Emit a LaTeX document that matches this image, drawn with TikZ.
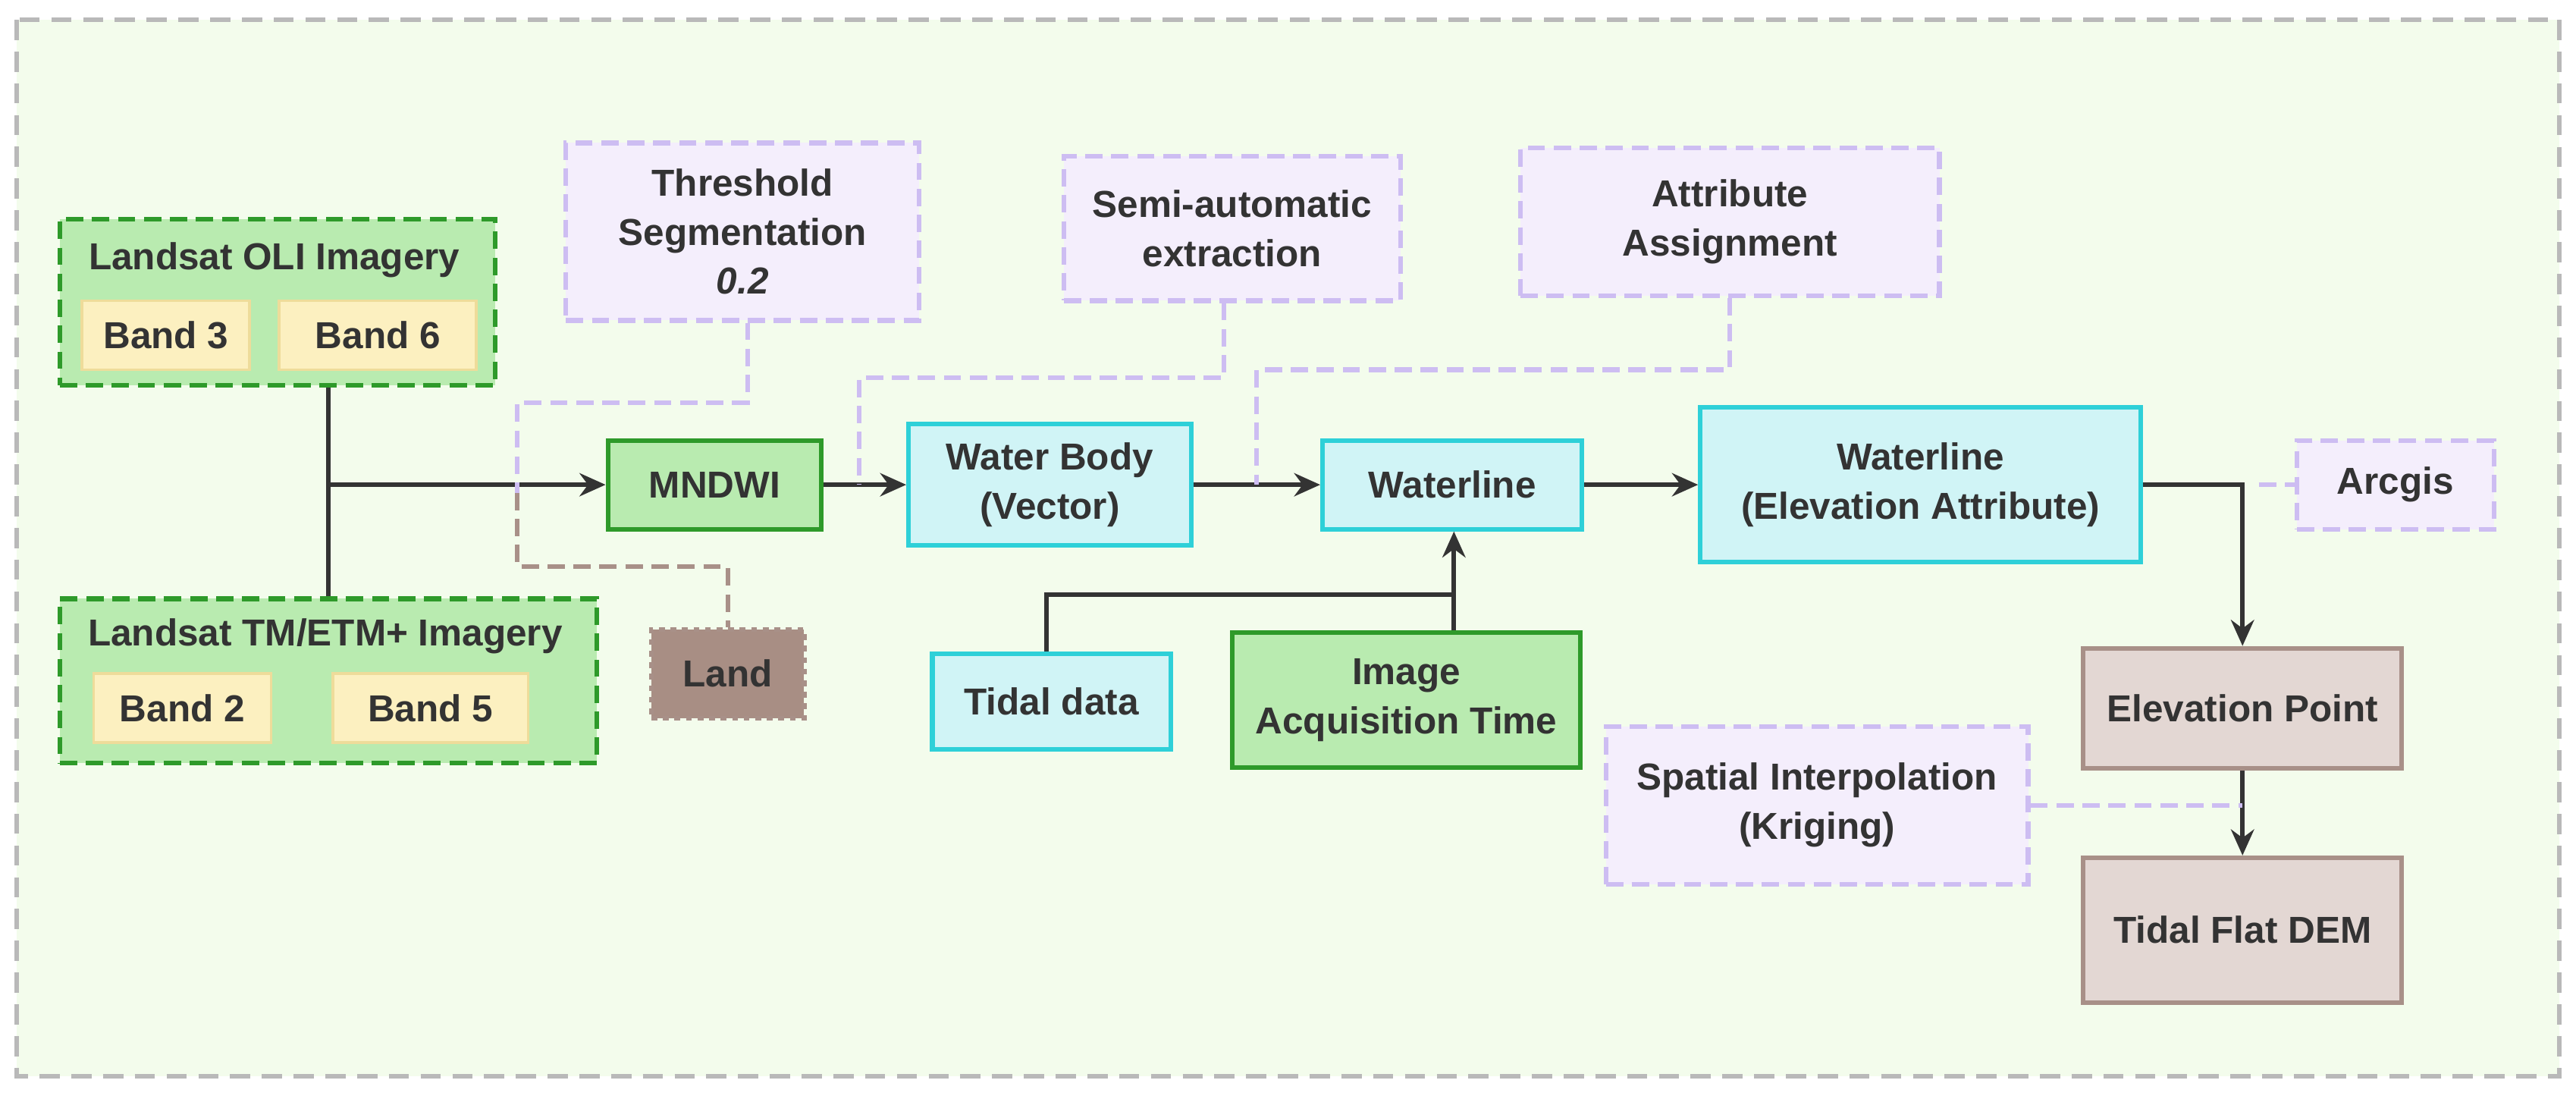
\documentclass[tikz,border=0pt]{standalone}
\usepackage{fontspec}
\setmainfont{Liberation Sans}
\usetikzlibrary{arrows.meta}
\definecolor{bgg}{HTML}{F3FCEC}
\definecolor{grn}{HTML}{B9EBB0}
\definecolor{dgrn}{HTML}{2E9A2A}
\definecolor{yel}{HTML}{FCF0C0}
\definecolor{yelb}{HTML}{EEDC9A}
\definecolor{lav}{HTML}{F4EEFC}
\definecolor{lavb}{HTML}{CDBDF2}
\definecolor{cyf}{HTML}{D0F4F6}
\definecolor{cyb}{HTML}{2ED0D8}
\definecolor{brf}{HTML}{E3D7D3}
\definecolor{brb}{HTML}{A89088}
\definecolor{land}{HTML}{A88E84}
\definecolor{ink}{HTML}{333333}
\begin{document}
\begin{tikzpicture}[x=0.02cm,y=-0.02cm,font=\fontsize{13}{17}\selectfont\bfseries,text=ink,
 box/.style={draw,line width=1.6pt,align=center,inner sep=0pt},
 grnbox/.style={box,fill=grn,draw=dgrn},
 dgrnbox/.style={box,fill=grn,draw=dgrn,dash pattern=on 6pt off 3pt},
 band/.style={box,fill=yel,draw=yelb,line width=1pt},
 cy/.style={box,fill=cyf,draw=cyb},
 br/.style={box,fill=brf,draw=brb},
 lv/.style={box,fill=lav,draw=lavb,dash pattern=on 6pt off 3pt},
 conn/.style={draw=ink,line width=1.6pt},
 arr/.style={conn,-{Stealth[length=9pt,width=8pt]}},
 lvl/.style={draw=lavb,line width=1.6pt,dash pattern=on 6pt off 3pt},
 brl/.style={draw=brb,line width=1.6pt,dash pattern=on 6pt off 3pt}]
\useasboundingbox (0,0) rectangle (1568,668.5);
\draw[fill=bgg,draw=gray!55,line width=1.6pt,dash pattern=on 7pt off 4pt] (10,12) rectangle (1558,655);
% Landsat boxes
\node[dgrnbox,minimum width=265*0.02cm,minimum height=101*0.02cm,anchor=north west] (oli) at (35,132) {};
\node[anchor=center] (olit) at (167,158) {Landsat OLI Imagery};
\node[band,minimum width=102*0.02cm,minimum height=42*0.02cm] (b3) at (101,204) {Band 3};
\node[band,minimum width=120*0.02cm,minimum height=42*0.02cm] (b6) at (230,204) {Band 6};
\node[dgrnbox,minimum width=327*0.02cm,minimum height=100*0.02cm,anchor=north west] (tm) at (35,363) {};
\node (tmt) at (198,387) {Landsat TM/ETM+ Imagery};
\node[band,minimum width=108*0.02cm,minimum height=42*0.02cm] (b2) at (111,431) {Band 2};
\node[band,minimum width=119*0.02cm,minimum height=42*0.02cm] (b5) at (262,431) {Band 5};
% MNDWI etc
\node[grnbox,minimum width=130*0.02cm,minimum height=54*0.02cm] (mndwi) at (435,295) {MNDWI};
\node[lv,minimum width=215*0.02cm,minimum height=108*0.02cm] (thr) at (452,141) {Threshold\\Segmentation\\\itshape 0.2};
\node[box,fill=land,draw=brb,dash pattern=on 2pt off 2pt,minimum width=93*0.02cm,minimum height=54*0.02cm] (land) at (443,410) {Land};
\node[lv,minimum width=205*0.02cm,minimum height=88*0.02cm] (semi) at (750,139) {Semi-automatic\\extraction};
\node[cy,minimum width=172*0.02cm,minimum height=74*0.02cm] (wb) at (639,295) {Water Body\\(Vector)};
\node[lv,minimum width=255*0.02cm,minimum height=90*0.02cm] (attr) at (1053,135) {Attribute\\Assignment};
\node[cy,minimum width=158*0.02cm,minimum height=54*0.02cm] (wl) at (884,295) {Waterline};
\node[cy,minimum width=268*0.02cm,minimum height=94*0.02cm] (wle) at (1169,295) {Waterline\\(Elevation Attribute)};
\node[cy,minimum width=145*0.02cm,minimum height=58*0.02cm] (tide) at (640,427) {Tidal data};
\node[grnbox,minimum width=212*0.02cm,minimum height=82*0.02cm] (iat) at (856,426) {Image\\Acquisition Time};
\node[lv,minimum width=120*0.02cm,minimum height=54*0.02cm] (arc) at (1458,295) {Arcgis};
\node[br,minimum width=194*0.02cm,minimum height=73*0.02cm] (ep) at (1365,431) {Elevation Point};
\node[br,minimum width=194*0.02cm,minimum height=88*0.02cm] (dem) at (1365,566) {Tidal Flat DEM};
\node[lv,minimum width=257*0.02cm,minimum height=96*0.02cm] (spi) at (1106,490) {Spatial Interpolation\\(Kriging)};
% connectors
\coordinate (j) at (200,295);
\draw[conn] (oli.south -| 200,0) -- (tm.north -| 200,0);
\draw[arr] (j) -- (mndwi.west);
\draw[lvl] (thr.south -| 455,0) -- (455,245) -- (315,245) -- (315,300);
\draw[brl] (315,300) -- (315,345) -- (443,345) -- (land.north);
\draw[arr] (mndwi.east) -- (wb.west);
\draw[lvl] (semi.south -| 745,0) -- (745,230) -- (523,230) -- (523,295);
\draw[arr] (wb.east) -- (wl.west);
\draw[lvl] (attr.south) -- (1053,225) -- (765,225) -- (765,295);
\draw[arr] (wl.east) -- (wle.west);
\draw[conn] (tide.north -| 637,0) -- (637,362) -- (885,362);
\draw[arr] (iat.north -| 885,0) -- (wl.south -| 885,0);
\draw[arr] (wle.east) -- (1365,295) -- (ep.north);
\draw[lvl] (1375,295) -- (arc.west);
\draw[arr] (ep.south) -- (dem.north);
\draw[lvl] (spi.east) -- (1365,490);
\end{tikzpicture}
\end{document}
